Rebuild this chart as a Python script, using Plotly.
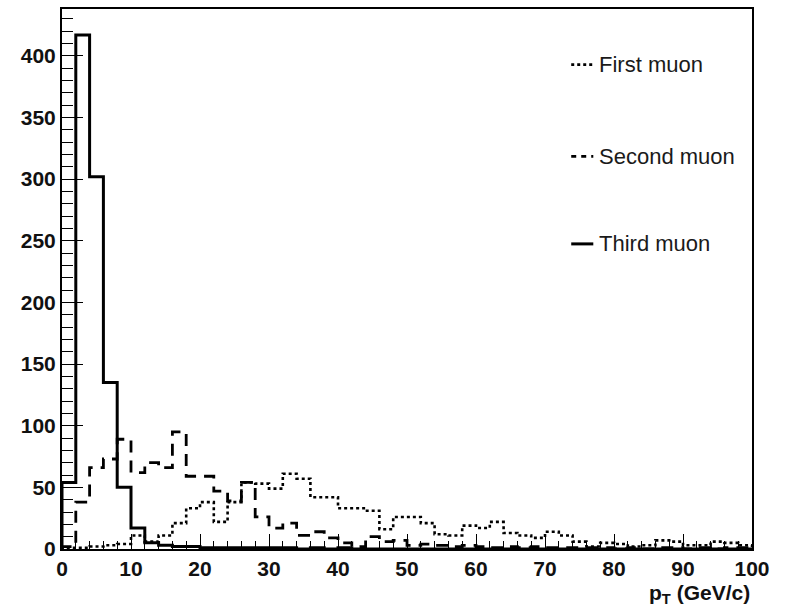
import numpy as np
import plotly.graph_objects as go

# Transverse momentum histograms, 2 GeV/c bins from 0 to 100
bin_edges = np.arange(0, 102, 2)

first_muon = [1, 1, 2, 3, 4, 11, 6, 11, 21, 33,
              38, 22, 38, 54, 53, 49, 61, 57, 42, 42,
              33, 33, 31, 16, 26, 26, 21, 12, 11, 19,
              17, 22, 13, 11, 9, 14, 11, 6, 2, 5,
              4, 2, 3, 7, 6, 3, 3, 6, 5, 3]

second_muon = [2, 38, 66, 73, 89, 62, 70, 66, 95, 59,
               59, 47, 39, 54, 26, 17, 21, 11, 14, 9,
               5, 2, 10, 6, 7, 3, 4, 3, 2, 3,
               2, 1, 2, 1, 2, 1, 1, 1, 1, 1,
               0, 1, 0, 1, 1, 0, 1, 0, 1, 1]

third_muon = [54, 417, 302, 135, 50, 17, 5, 3, 2, 2,
              1, 1, 1, 1, 1, 1, 1, 0, 1, 0,
              1, 0, 0, 0, 0, 0, 0, 0, 0, 0,
              0, 0, 0, 0, 0, 0, 0, 0, 0, 0,
              0, 0, 0, 0, 0, 0, 0, 0, 0, 0]

series = [
    ("First muon", first_muon, "dot", 2.6),
    ("Second muon", second_muon, "12px,8px", 2.8),
    ("Third muon", third_muon, "solid", 3),
]

FONT = "Liberation Sans, Arial, sans-serif"


def step_xy(values):
    """Outline of a histogram: start at the baseline, step over each bin."""
    xs = [bin_edges[0]] + list(bin_edges[:-1]) + [bin_edges[-1], bin_edges[-1]]
    ys = [0] + list(values) + [values[-1], 0]
    return xs, ys


fig = go.Figure()
for name, vals, dash, width in series:
    xs, ys = step_xy(vals)
    fig.add_trace(go.Scatter(
        x=xs, y=ys, mode="lines", name=name,
        line=dict(color="black", width=width, dash=dash, shape="hv"),
        showlegend=False,
    ))

# Legend drawn as line samples with labels in the upper right
legend_rows = [0.897, 0.727, 0.565]
for (name, vals, dash, width), yp in zip(series, legend_rows):
    sample_dash = "5px,5px" if dash not in ("solid", "dot") else dash
    fig.add_shape(type="line", xref="paper", yref="paper",
                  x0=0.738, x1=0.770, y0=yp, y1=yp,
                  line=dict(color="black", width=width, dash=sample_dash))
    fig.add_annotation(x=0.775, y=yp, xref="paper", yref="paper",
                       text=name, showarrow=False, xanchor="left",
                       yanchor="middle",
                       font=dict(family=FONT, size=22, color="#1a1a1a"))

fig.add_annotation(x=1.0, y=-0.055, xref="paper", yref="paper",
                   text="<b>p<sub>T</sub> (GeV/c)</b>", showarrow=False,
                   xanchor="right", yanchor="top",
                   font=dict(family=FONT, size=21, color="#111"))

tick_font = dict(family=FONT, size=21, color="#111", weight="bold")

fig.update_xaxes(
    range=[0, 100], dtick=10, tick0=0, ticks="inside", ticklen=15,
    tickwidth=1.2, tickcolor="black", tickfont=tick_font,
    showline=True, linecolor="black", linewidth=2, mirror=True,
    showgrid=False, zeroline=False,
    minor=dict(dtick=2, ticks="inside", ticklen=8, tickwidth=1.2,
               tickcolor="black", showgrid=False),
)
fig.update_yaxes(
    range=[0, 438], dtick=50, tick0=0, ticks="inside", ticklen=21,
    tickwidth=1.2, tickcolor="black", tickfont=tick_font,
    showline=True, linecolor="black", linewidth=2, mirror=True,
    showgrid=False, zeroline=False,
    minor=dict(dtick=10, ticks="inside", ticklen=11, tickwidth=1.2,
               tickcolor="black", showgrid=False),
)

fig.update_layout(
    width=785, height=613,
    margin=dict(l=62, r=33, t=7, b=64),
    paper_bgcolor="white", plot_bgcolor="white",
    showlegend=False,
)

fig.write_html("out.html")
